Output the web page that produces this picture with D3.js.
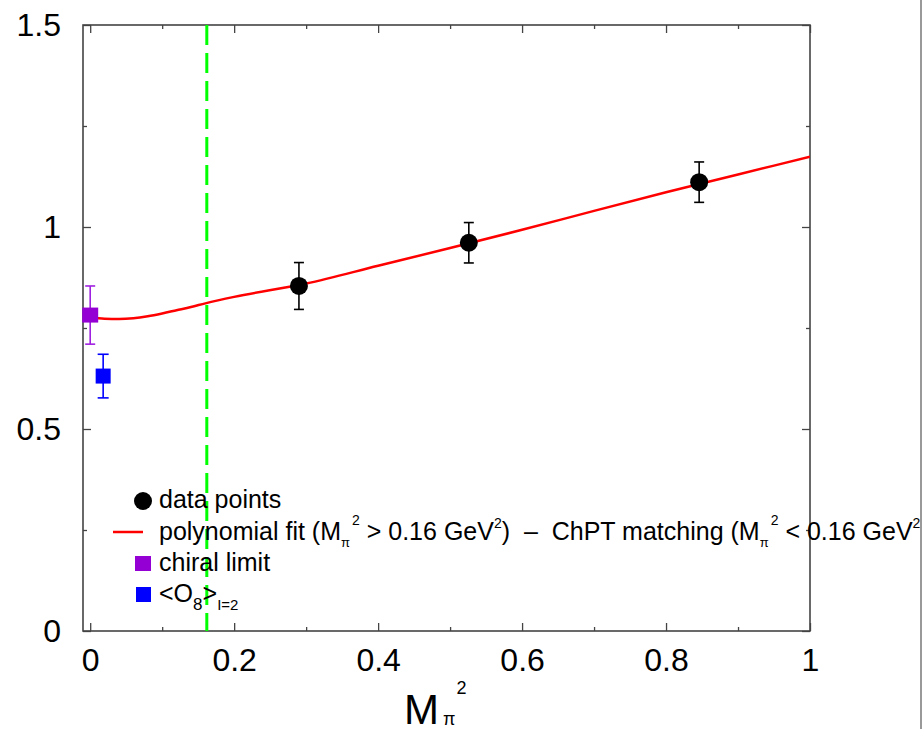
<!DOCTYPE html>
<html>
<head>
<meta charset="utf-8">
<script src="https://cdn.jsdelivr.net/npm/d3@7"></script>
<style>
  body { margin: 0; background: #fff; }
  svg { display: block; font-family: "Liberation Sans", Arial, Helvetica, sans-serif; }
  text { white-space: pre; }
</style>
</head>
<body>
<svg id="chart" width="924" height="729"></svg>
<script>
// data
var dataX = [0.29, 0.526, 0.846];
var dataY = [0.854, 0.961, 1.111];
var dataErr = [0.058, 0.05, 0.05];

var chiralX = [0];
var chiralY = [0.782];
var chiralErr = [0.072];

var o8X = [0.018];
var o8Y = [0.631];
var o8Err = [0.054];

// fit curve (ChPT below 0.16, polynomial above)
var fitX = [0, 0.02, 0.04, 0.06, 0.08, 0.1, 0.12, 0.14, 0.16, 0.2, 0.3, 0.4, 0.5, 0.6, 0.7, 0.8, 0.9, 1.0];
var fitY = [0.776, 0.773, 0.772, 0.774, 0.779, 0.786, 0.794, 0.802, 0.811, 0.827, 0.860, 0.904, 0.948, 0.993, 1.040, 1.086, 1.130, 1.174];

var cutX = 0.162;

var xTicks = [0, 0.2, 0.4, 0.6, 0.8, 1];
var xMinor = [0.1, 0.3, 0.5, 0.7, 0.9];
var yTicks = [0, 0.5, 1, 1.5];
var yMinor = [0.25, 0.75, 1.25];

var svg = d3.select('#chart');
var pLeft = 83, pRight = 810, pTop = 25, pBottom = 631;

var x = d3.scaleLinear().domain([-0.01, 1]).range([pLeft, pRight]);
var y = d3.scaleLinear().domain([0, 1.5]).range([pBottom, pTop]);

svg.append('rect').attr('width', 924).attr('height', 729).attr('fill', '#fff');

svg.append('clipPath').attr('id', 'plotclip')
  .append('rect').attr('x', pLeft).attr('y', pTop).attr('width', pRight - pLeft).attr('height', pBottom - pTop);
svg.append('clipPath').attr('id', 'pageclip')
  .append('rect').attr('x', 0).attr('y', 0).attr('width', 920).attr('height', 729);

var axisColor = '#444';
var fmt = function(d) { return d3.format('')(d); };

// major ticks + labels
svg.append('g').attr('transform', 'translate(0,' + pBottom + ')')
  .call(d3.axisBottom(x).tickValues(xTicks).tickSize(-8).tickPadding(17).tickFormat(fmt));
svg.append('g').attr('transform', 'translate(0,' + pBottom + ')')
  .call(d3.axisBottom(x).tickValues(xMinor).tickSize(-4).tickFormat(''));
svg.append('g').attr('transform', 'translate(0,' + pTop + ')')
  .call(d3.axisTop(x).tickValues(xTicks).tickSize(-8).tickFormat(''));
svg.append('g').attr('transform', 'translate(0,' + pTop + ')')
  .call(d3.axisTop(x).tickValues(xMinor).tickSize(-4).tickFormat(''));

svg.append('g').attr('transform', 'translate(' + pLeft + ',0)')
  .call(d3.axisLeft(y).tickValues(yTicks).tickSize(-8).tickPadding(22).tickFormat(fmt));
svg.append('g').attr('transform', 'translate(' + pLeft + ',0)')
  .call(d3.axisLeft(y).tickValues(yMinor).tickSize(-4).tickFormat(''));
svg.append('g').attr('transform', 'translate(' + pRight + ',0)')
  .call(d3.axisRight(y).tickValues(yTicks).tickSize(-8).tickFormat(''));
svg.append('g').attr('transform', 'translate(' + pRight + ',0)')
  .call(d3.axisRight(y).tickValues(yMinor).tickSize(-4).tickFormat(''));

svg.selectAll('.domain').remove();
svg.selectAll('.tick line').attr('stroke', axisColor).attr('stroke-width', 1.3);
svg.selectAll('.tick text').attr('fill', '#000').attr('font-size', 32)
  .attr('font-family', '"Liberation Sans", Arial, sans-serif');

// frame
svg.append('rect')
  .attr('x', pLeft).attr('y', pTop).attr('width', pRight - pLeft).attr('height', pBottom - pTop)
  .attr('fill', 'none').attr('stroke', axisColor).attr('stroke-width', 1.6);

// dashed cut line
svg.append('line')
  .attr('x1', x(cutX)).attr('x2', x(cutX)).attr('y1', y(1.5)).attr('y2', y(0))
  .attr('stroke', '#00ff00').attr('stroke-width', 3).attr('stroke-dasharray', '20,8');

// fit curve
var line = d3.line().x(function(d) { return x(d[0]); }).y(function(d) { return y(d[1]); })
  .curve(d3.curveMonotoneX);
svg.append('path')
  .datum(d3.zip(fitX, fitY))
  .attr('clip-path', 'url(#plotclip)')
  .attr('d', line)
  .attr('fill', 'none').attr('stroke', '#ff0000').attr('stroke-width', 2.5);

function errorBars(xs, ys, es, color, cap) {
  var g = svg.append('g').attr('stroke', color).attr('stroke-width', 1.6);
  xs.forEach(function(v, i) {
    var cx = x(v);
    g.append('line').attr('x1', cx).attr('x2', cx).attr('y1', y(ys[i] - es[i])).attr('y2', y(ys[i] + es[i]));
    g.append('line').attr('x1', cx - cap).attr('x2', cx + cap).attr('y1', y(ys[i] - es[i])).attr('y2', y(ys[i] - es[i]));
    g.append('line').attr('x1', cx - cap).attr('x2', cx + cap).attr('y1', y(ys[i] + es[i])).attr('y2', y(ys[i] + es[i]));
  });
}

errorBars(dataX, dataY, dataErr, '#000', 5);
svg.selectAll('circle.pt').data(d3.zip(dataX, dataY)).enter().append('circle')
  .attr('class', 'pt')
  .attr('cx', function(d) { return x(d[0]); })
  .attr('cy', function(d) { return y(d[1]); })
  .attr('r', 9).attr('fill', '#000');

errorBars(chiralX, chiralY, chiralErr, '#a020e0', 5);
svg.selectAll('rect.chiral').data(d3.zip(chiralX, chiralY)).enter().append('rect')
  .attr('class', 'chiral')
  .attr('x', function(d) { return x(d[0]) - 8; })
  .attr('y', function(d) { return y(d[1]) - 7.5; })
  .attr('width', 16).attr('height', 15).attr('fill', '#9400d3');

errorBars(o8X, o8Y, o8Err, '#0000ff', 5.5);
svg.selectAll('rect.o8').data(d3.zip(o8X, o8Y)).enter().append('rect')
  .attr('class', 'o8')
  .attr('x', function(d) { return x(d[0]) - 7.5; })
  .attr('y', function(d) { return y(d[1]) - 7.5; })
  .attr('width', 15).attr('height', 15).attr('fill', '#0000ff');

// legend
var lg = svg.append('g').attr('clip-path', 'url(#pageclip)');
var lx = 143, tx = 159, fs = 25;

lg.append('circle').attr('cx', lx).attr('cy', 501).attr('r', 9).attr('fill', '#000');
lg.append('text').attr('x', tx).attr('y', 508).attr('font-size', fs).text('data points');

lg.append('line').attr('x1', 113).attr('x2', 143).attr('y1', 532).attr('y2', 532)
  .attr('stroke', '#ff0000').attr('stroke-width', 2.5);
var t2 = lg.append('text').attr('x', tx).attr('y', 540).attr('font-size', fs);
function mpi(t) {
  t.append('tspan').attr('font-size', 13).attr('dy', 7).text('\u03c0');
  t.append('tspan').attr('font-size', 14).attr('dy', -22).attr('dx', 2).text('2');
}
t2.append('tspan').text('polynomial fit (M');
mpi(t2);
t2.append('tspan').attr('dy', 15).text(' > 0.16 GeV');
t2.append('tspan').attr('font-size', 14).attr('dy', -12).text('2');
t2.append('tspan').attr('dy', 12).text(')  \u2013  ChPT matching (M');
mpi(t2);
t2.append('tspan').attr('dy', 15).text(' < 0.16 GeV');
t2.append('tspan').attr('font-size', 14).attr('dy', -12).text('2');
t2.append('tspan').attr('dy', 12).text(')');

lg.append('rect').attr('x', 135).attr('y', 556).attr('width', 16).attr('height', 15).attr('fill', '#9400d3');
lg.append('text').attr('x', tx).attr('y', 571).attr('font-size', fs).text('chiral limit');

lg.append('rect').attr('x', 136).attr('y', 587).attr('width', 15).attr('height', 15).attr('fill', '#0000ff');
var t4 = lg.append('text').attr('x', tx).attr('y', 602).attr('font-size', fs);
t4.append('tspan').text('<O');
t4.append('tspan').attr('font-size', 17).attr('dy', 8).text('8');
t4.append('tspan').attr('dy', -8).text('>');
t4.append('tspan').attr('font-size', 15).attr('dy', 8).text('I=2');

// axis title
var xt = svg.append('text').attr('x', 404).attr('y', 724).attr('font-size', 42);
xt.append('tspan').text('M');
xt.append('tspan').attr('font-size', 18).attr('dx', 4).attr('dy', 1).text('\u03c0');
xt.append('tspan').attr('font-size', 18).attr('dy', -31).attr('dx', 1).text('2');

// right page border
svg.append('line').attr('x1', 921).attr('x2', 921).attr('y1', 0).attr('y2', 729)
  .attr('stroke', '#777').attr('stroke-width', 1.5);
</script>
</body>
</html>
